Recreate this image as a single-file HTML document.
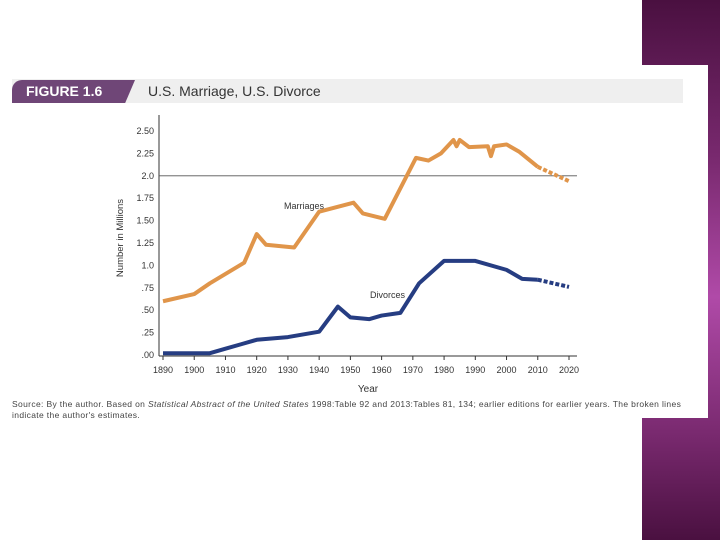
<!DOCTYPE html>
<html><head><meta charset="utf-8"><style>
body{margin:0;width:720px;height:540px;background:#fff;position:relative;overflow:hidden;font-family:"Liberation Sans",sans-serif}
#strip{position:absolute;left:642px;top:0;width:78px;height:540px;background:linear-gradient(180deg,#4a1040 0%,#7a2a70 30%,#b04aa8 55%,#7a2a70 80%,#4a1040 100%)}
#card{position:absolute;left:0;top:65px;width:708px;height:353px;background:#fff}
#bar{position:absolute;left:12px;top:79px;width:671px;height:24px;background:#efefef}
#tab{position:absolute;left:12px;top:80px;width:123px;height:23px;background:#6f4677;border-radius:10px 0 0 0;clip-path:polygon(0 0,100% 0,92% 100%,0 100%)}
#tab span{position:absolute;left:14px;top:3px;color:#fff;font-weight:bold;font-size:14px}
#title{position:absolute;left:148px;top:83px;font-size:14px;color:#333}
#src{position:absolute;left:12px;top:399px;font-size:8.5px;letter-spacing:0.35px;color:#444;width:700px;line-height:11px;white-space:nowrap}
</style></head><body>
<div id="strip"></div>
<div id="card"></div>
<div id="bar"></div>
<div id="tab"><span>FIGURE 1.6</span></div>
<div id="title">U.S. Marriage, U.S. Divorce</div>
<svg id="chart" width="720" height="540" style="position:absolute;left:0;top:0"></svg>
<div id="src">Source: By the author. Based on <i>Statistical Abstract of the United States</i> 1998:Table 92 and 2013:Tables 81, 134; earlier editions for earlier years. The broken lines<br>indicate the author's estimates.</div>
<script>
const yTicks=[0,0.25,0.5,0.75,1.0,1.25,1.5,1.75,2.0,2.25,2.5];
const yLabels=[".00",".25",".50",".75","1.0","1.25","1.50","1.75","2.0","2.25","2.50"];
const xTicks=[1890,1900,1910,1920,1930,1940,1950,1960,1970,1980,1990,2000,2010,2020];
const marYears=[1890,1900,1905,1916,1920,1923,1932,1940,1951,1954,1961,1971,1975,1979,1983,1984,1985,1988,1994,1995,1996,2000,2004,2010];
const marVals=[0.6,0.68,0.8,1.03,1.35,1.23,1.2,1.6,1.7,1.58,1.52,2.2,2.17,2.25,2.4,2.33,2.4,2.32,2.33,2.22,2.33,2.35,2.27,2.1];
const marEstYears=[2010,2020];
const marEstVals=[2.1,1.94];
const divYears=[1890,1905,1910,1915,1920,1930,1940,1946,1950,1956,1960,1966,1972,1980,1990,2000,2005,2010];
const divVals=[0.02,0.02,0.07,0.12,0.17,0.2,0.26,0.54,0.42,0.4,0.44,0.47,0.8,1.05,1.05,0.95,0.85,0.84];
const divEstYears=[2010,2020];
const divEstVals=[0.84,0.76];
const X=y=>163+(y-1890)*(569-163)/130;
const Y=v=>355-v*89.6;
const svg=document.getElementById('chart');const NS='http://www.w3.org/2000/svg';
function el(t,a,p){const e=document.createElementNS(NS,t);for(const k in a)e.setAttribute(k,a[k]);(p||svg).appendChild(e);return e;}
let e;
e=el('line',{x1:159,y1:115,x2:159,y2:356,stroke:'#333','stroke-width':1});

e=el('line',{x1:159,y1:356,x2:577,y2:356,stroke:'#333','stroke-width':1});

e=el('line',{x1:159,y1:Y(2),x2:577,y2:Y(2),stroke:'#555','stroke-width':0.8});

yTicks.forEach((v,i)=>{e=el('text',{x:154,y:Y(v)+3,'text-anchor':'end','font-size':9,fill:'#333'});e.textContent=yLabels[i];
});
xTicks.forEach(v=>{e=el('line',{x1:X(v),y1:356,x2:X(v),y2:360,stroke:'#333'});

e=el('text',{x:X(v),y:373,'text-anchor':'middle','font-size':9,fill:'#333'});e.textContent=v;
});
e=el('text',{x:368,y:392,'text-anchor':'middle','font-size':10,fill:'#333'});e.textContent='Year';

e=el('text',{x:123,y:238,'text-anchor':'middle','font-size':9.5,fill:'#333',transform:'rotate(-90 123 238)'});e.textContent='Number in Millions';

const pts=(xs,vs)=>xs.map((x,i)=>X(x)+','+Y(vs[i])).join(' ');
e=el('polyline',{points:pts(marYears,marVals),fill:'none',stroke:'#e0954a','stroke-width':4,'stroke-linejoin':'round'});

e=el('polyline',{points:pts(marEstYears,marEstVals),fill:'none',stroke:'#e0954a','stroke-width':4,'stroke-dasharray':'4 2'});

e=el('polyline',{points:pts(divYears,divVals),fill:'none',stroke:'#263d82','stroke-width':4,'stroke-linejoin':'round'});

e=el('polyline',{points:pts(divEstYears,divEstVals),fill:'none',stroke:'#263d82','stroke-width':4,'stroke-dasharray':'4 2'});

e=el('text',{x:284,y:209,'font-size':9,fill:'#333'});e.textContent='Marriages';

e=el('text',{x:370,y:298,'font-size':9,fill:'#333'});e.textContent='Divorces';

</script>
</body></html>
